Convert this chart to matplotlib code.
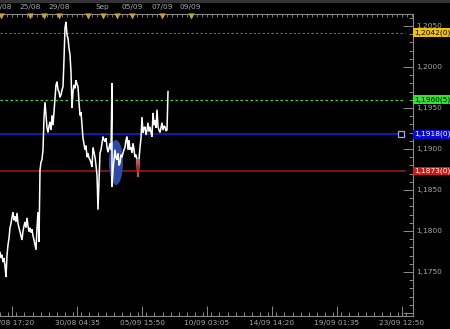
import matplotlib
matplotlib.use("Agg")
import matplotlib.pyplot as plt
from matplotlib.patches import Ellipse, Rectangle
from matplotlib.ticker import MultipleLocator, FixedLocator
import matplotlib.transforms as mtransforms

# ---------------- data ----------------
prices = [
    1.1774, 1.1767, 1.1771, 1.1762, 1.1767, 1.1757, 1.1744, 1.1770, 1.1783, 1.1791,
    1.1804, 1.1809, 1.1817, 1.1823, 1.1813, 1.1818, 1.1811, 1.1822, 1.1809, 1.1804,
    1.1799, 1.1794, 1.1789, 1.1800, 1.1806, 1.1811, 1.1804, 1.1816, 1.1806, 1.1799,
    1.1804, 1.1798, 1.1802, 1.1794, 1.1789, 1.1783, 1.1777, 1.1804, 1.1823, 1.1787,
    1.1874, 1.1884, 1.1887, 1.1899, 1.1938, 1.1957, 1.1941, 1.1926, 1.1920, 1.1928,
    1.1933, 1.1923, 1.1941, 1.1929, 1.1945, 1.1960, 1.1978, 1.1982, 1.1972, 1.1970,
    1.1963, 1.1966, 1.1972, 1.1976, 1.2009, 1.2048, 1.2055, 1.2039, 1.2035, 1.2023,
    1.2015, 1.1994, 1.1950, 1.1970, 1.1978, 1.1974, 1.1984, 1.1979, 1.1976, 1.1957,
    1.1941, 1.1945, 1.1929, 1.1913, 1.1906, 1.1899, 1.1904, 1.1890, 1.1895, 1.1889,
    1.1887, 1.1883, 1.1878, 1.1902, 1.1896, 1.1890, 1.1880, 1.1868, 1.1826, 1.1859,
    1.1895, 1.1899, 1.1907, 1.1915, 1.1911, 1.1909, 1.1913, 1.1902, 1.1896, 1.1901,
    1.1907, 1.1899, 1.1980, 1.1854, 1.1874, 1.1887, 1.1899, 1.1889, 1.1887, 1.1895,
    1.1880, 1.1883, 1.1893, 1.1890, 1.1895, 1.1899, 1.1902, 1.1911, 1.1915, 1.1899,
    1.1911, 1.1899, 1.1902, 1.1895, 1.1907, 1.1899, 1.1890, 1.1893, 1.1887, 1.1866,
    1.1887, 1.1902, 1.1913, 1.1939, 1.1920, 1.1926, 1.1927, 1.1917, 1.1923, 1.1932,
    1.1921, 1.1927, 1.1920, 1.1915, 1.1944, 1.1929, 1.1935, 1.1926, 1.1948, 1.1927,
    1.1923, 1.1920, 1.1926, 1.1932, 1.1923, 1.1928, 1.1927, 1.1922, 1.1923, 1.1970,
]
bars = list(range(0, 113)) + list(range(112, 169))

level_grey = 1.2042
level_green = 1.1960
level_blue = 1.1918
level_red = 1.1873
level_labels = ["1,2042(0)", "1,1960(5)", "1,1918(0)", "1,1873(0)"]

bottom_labels = ["25/08 17:20", "30/08 04:35", "05/09 15:50", "10/09 03:05",
                 "14/09 14:20", "19/09 01:35", "23/09 12:50"]
bottom_first_bar = 12
bottom_step = 65

ruler_labels = ["21/08", "25/08", "29/08", "Sep", "05/09", "07/09", "09/09"]
ruler_label_bars = [1, 30, 59, 102, 132, 162, 190]
event_bars = [1, 30, 44, 59, 88, 103, 117, 132, 162, 191]

ellipse_center = (116, 1.18835)
ellipse_size = (14, 0.0055)

# ---------------- layout ----------------
W, H = 450, 329
fig = plt.figure(figsize=(W / 100, H / 100), dpi=100, facecolor="black")

ax_right_px = 413
ax_top_px = 14
ax_bot_px = 316
ax = fig.add_axes([0, (H - ax_bot_px) / H, ax_right_px / W, (ax_bot_px - ax_top_px) / H])
ax.set_facecolor("black")
ax.set_xlim(0, 413)
ax.set_ylim(1.16963, 1.20646)

grey = "#8a8a8a"
txt_grey = "#a8a8a8"
fs = 5.3

for s in ["top", "left"]:
    ax.spines[s].set_visible(False)
for s in ["right", "bottom"]:
    ax.spines[s].set_color(grey)
    ax.spines[s].set_linewidth(0.8)


def yfmt(v, p):
    if v < 1.1720:
        return ""
    return f"{v:.4f}".replace(".", ",")


ax.yaxis.tick_right()
ax.yaxis.set_major_locator(MultipleLocator(0.005))
ax.yaxis.set_minor_locator(MultipleLocator(0.001))
ax.yaxis.set_major_formatter(plt.FuncFormatter(yfmt))
ax.tick_params(axis="y", which="major", direction="in", length=7, color=grey,
               labelcolor=txt_grey, labelsize=fs, pad=2, width=0.7)
ax.tick_params(axis="y", which="minor", direction="in", length=3, color=grey, width=0.7)

major_x = [bottom_first_bar + i * bottom_step for i in range(len(bottom_labels))]
ax.xaxis.set_major_locator(FixedLocator(major_x))
ax.set_xticklabels(bottom_labels)
ax.xaxis.set_minor_locator(MultipleLocator(bottom_step / 8))
ax.tick_params(axis="x", which="major", direction="in", length=7, color=grey,
               labelcolor=txt_grey, labelsize=fs, pad=3, width=0.7)
ax.tick_params(axis="x", which="minor", direction="in", length=3, color=grey, width=0.7)

# ---------------- levels ----------------
ax.axhline(level_grey, xmin=0, xmax=405 / 413, color="#6e6e6e", lw=0.8, ls=(0, (2, 2)), zorder=2)
ax.axhline(level_green, xmin=0, xmax=405 / 413, color="#3ed83e", lw=0.9, ls=(0, (2, 2)), zorder=2)
ax.axhline(level_blue, xmin=0, xmax=397 / 413, color="#1c1cd0", lw=1.2, zorder=2)
ax.axhline(level_red, xmin=0, xmax=405 / 413, color="#a01818", lw=1.1, zorder=2)
ax.plot([401], [level_blue], marker="s", ms=4.5, mfc="none", mec="#9aa8ff", mew=0.9, zorder=3)

# ellipse
ax.add_patch(Ellipse(ellipse_center, ellipse_size[0], ellipse_size[1],
                     facecolor="#2d4aa6", edgecolor="none", zorder=3))

# price line
ax.plot(bars, prices, color="white", lw=1.1, zorder=4, solid_joinstyle="miter")
i138 = bars.index(138)
ax.plot(bars[i138 - 1:i138 + 2], prices[i138 - 1:i138 + 2], color="#d02020", lw=0.9, zorder=5)

# value labels on right
trans = mtransforms.blended_transform_factory(ax.transAxes, ax.transData)
boxes = [("#f2c200", "black"), ("#33e033", "black"), ("#0a0ad0", "white"), ("#d01818", "white")]
for lv, lab, (bg, fg) in zip([level_grey, level_green, level_blue, level_red], level_labels, boxes):
    ax.text(1.0 + 1.5 / 413, lv, lab, transform=trans, ha="left", va="center",
            fontsize=fs, color=fg, zorder=10, clip_on=False,
            bbox=dict(boxstyle="square,pad=0.15", facecolor=bg, edgecolor="none"))

# ---------------- top ruler ----------------
rul = fig.add_axes([0, (H - 18) / H, ax_right_px / W, 18 / H])
rul.set_xlim(0, 413)
rul.set_ylim(0, 1)
rul.set_facecolor("black")
rul.axis("off")
rul.axhline(4 / 18, color="#8a8a8a", lw=0.8)
tick_x = list(range(2, 413, 5))
rul.vlines(tick_x, 1.5 / 18, 4 / 18, color="#8a8a8a", lw=0.6)
rul.scatter(event_bars, [1.9 / 18] * len(event_bars), marker="v", s=20,
            color="#c9a235", linewidths=0, zorder=3)
for lab, xb in zip(ruler_labels, ruler_label_bars):
    rul.text(xb, 11.5 / 18, lab, ha="center", va="center", fontsize=fs, color=txt_grey)

# top grey strip
fig.patches.append(Rectangle((0, (H - 2.5) / H), 1, 2.5 / H, transform=fig.transFigure,
                             facecolor="#343434", edgecolor="none"))

fig.savefig("out.png", dpi=100, facecolor="black")
